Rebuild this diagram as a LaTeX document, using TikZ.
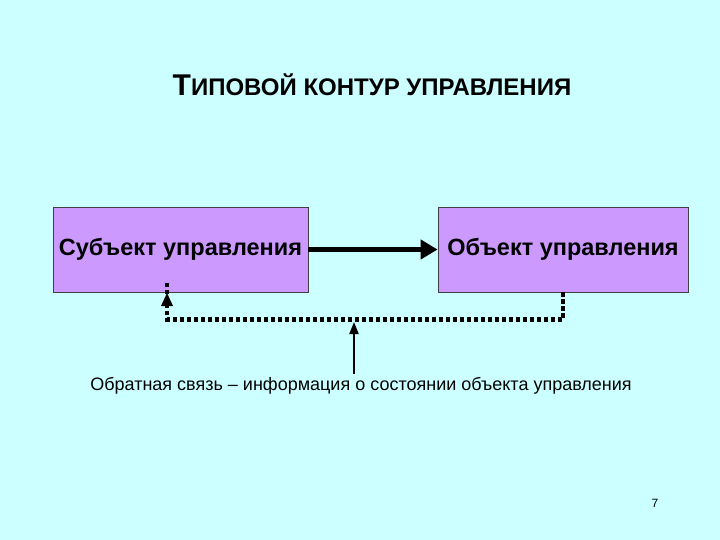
\documentclass[tikz,border=0pt]{standalone}
\usepackage{fontspec}
\setmainfont{Liberation Sans}
\usetikzlibrary{positioning, arrows.meta}
\definecolor{bgcyan}{HTML}{CCFFFF}
\definecolor{boxviolet}{HTML}{CC99FF}

\begin{document}
\begin{tikzpicture}[x=1pt, y=-1pt,
    ctrlbox/.style={draw=black!75, line width=0.8pt, fill=boxviolet, minimum width=#1, minimum height=85pt, inner sep=0pt, font=\fontsize{23.5}{26}\selectfont\bfseries},
    fbline/.style={line width=4.5pt, dash pattern=on 4.5pt off 2.5pt},
    mainarrow/.style={-{Triangle[length=17pt, width=19pt]}, line width=5.5pt}]
\useasboundingbox[fill=bgcyan] (0,0) rectangle (720,540);

\node (title) at (372,85) {\bfseries\fontsize{30}{34}\selectfont Т\fontsize{24}{28}\selectfont ИПОВОЙ КОНТУР УПРАВЛЕНИЯ};

\node (subj) [ctrlbox=255pt] at (180.5,249.5) {Субъект управления};
\node (obj) [ctrlbox=250pt] at (563,249.5) {Объект управления};

\draw[mainarrow] (subj) -- (obj);

% feedback loop
\coordinate (fbin) at (167,293);
\coordinate (fbmid) at (354,322);
\draw[fbline] (obj.south) -- ++(0,27) -| ([yshift=12pt]fbin);
\fill (fbin) -- ++(-6,13) -- ++(12,0) -- cycle;

\node (fbtext) at (361,386) {\fontsize{18}{21}\selectfont Обратная связь – информация о состоянии объекта управления};
\draw[-{Triangle[length=12pt, width=9pt]}, line width=2pt] (fbtext.north -| fbmid) -- (fbmid);

\node (pagenum) at (655,503) {\fontsize{12}{14}\selectfont 7};
\end{tikzpicture}
\end{document}
